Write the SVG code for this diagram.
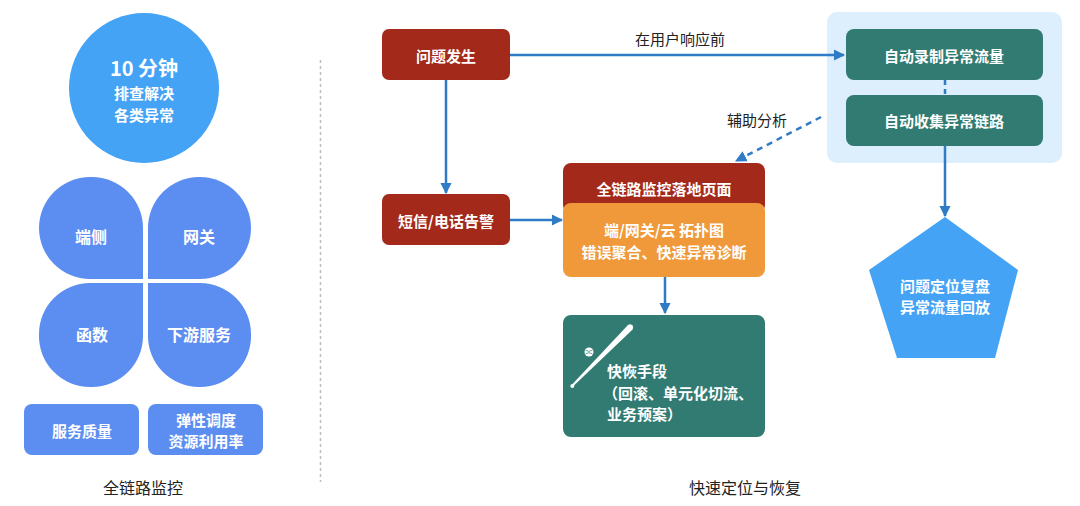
<svg xmlns="http://www.w3.org/2000/svg" width="1080" height="506" viewBox="0 0 1080 506">
<style>
  text { font-family: "Noto Sans CJK SC", "Noto Sans", "Liberation Sans", sans-serif; }
  .w { fill: #ffffff; font-weight: bold; font-size: 15px; text-anchor: middle; dominant-baseline: central; }
  .wl { fill: #ffffff; font-weight: bold; font-size: 15px; dominant-baseline: central; }
  .d { fill: #222222; font-size: 15px; text-anchor: middle; dominant-baseline: central; }
  .petal { fill: #5C8EF1; }
  .red { fill: #A3291B; }
  .teal { fill: #317B73; }
  .conn { stroke: #2F7BC6; stroke-width: 2.5; fill: none; }
  .dash { stroke: #2F7BC6; stroke-width: 2.5; fill: none; stroke-dasharray: 6 5; }
</style>
<defs>
  <marker id="ah" viewBox="0 0 10 10" refX="9" refY="5" markerWidth="4.6" markerHeight="4.6" orient="auto" markerUnits="strokeWidth">
    <path d="M0,0 L10,5 L0,10 Z" fill="#2F7BC6"/>
  </marker>
</defs>

<!-- Left section -->
<g id="node-circle">
  <circle cx="144" cy="88" r="75" fill="#45A3F6"/>
  <text class="w" x="144" y="67" style="font-size:20px">10 分钟</text>
  <text class="w" x="144" y="92">排查解决</text>
  <text class="w" x="144" y="114">各类异常</text>
</g>
<g id="node-duance">
  <path class="petal" d="M143,279 H90 A51,51 0 0 1 39,228 V228 A51,51 0 0 1 90,177 H92 A51,51 0 0 1 143,228 Z"/>
  <text class="w" x="91" y="236" style="font-size:16px">端侧</text>
</g>
<g id="node-wangguan">
  <path class="petal" d="M148,279 H200 A51,51 0 0 0 251,228 A51,51 0 0 0 200,177 H199 A51,51 0 0 0 148,228 Z"/>
  <text class="w" x="199" y="236" style="font-size:16px">网关</text>
</g>
<g id="node-hanshu">
  <path class="petal" d="M143,283 H90 A51,51 0 0 0 39,334 A51,51 0 0 0 90,387 H92 A51,51 0 0 0 143,336 Z"/>
  <text class="w" x="92" y="334" style="font-size:16px">函数</text>
</g>
<g id="node-xiayou">
  <path class="petal" d="M148,283 H200 A51,51 0 0 1 251,334 A51,51 0 0 1 200,387 H199 A51,51 0 0 1 148,336 Z"/>
  <text class="w" x="199" y="334" style="font-size:16px">下游服务</text>
</g>
<g id="node-fuwuzhiliang">
  <rect class="petal" x="24" y="404" width="115" height="51" rx="8"/>
  <text class="w" x="82" y="430">服务质量</text>
</g>
<g id="node-tanxing">
  <rect class="petal" x="148" y="404" width="115" height="51" rx="8"/>
  <text class="w" x="206" y="419">弹性调度</text>
  <text class="w" x="206" y="440">资源利用率</text>
</g>
<text class="d" x="143" y="487" style="font-size:16px">全链路监控</text>

<line x1="320.5" y1="60" x2="320.5" y2="482" stroke="#BDBDBD" stroke-width="1.5" stroke-dasharray="3 3"/>

<!-- Right section -->
<g id="node-panel">
  <rect x="827" y="12" width="235" height="151" rx="10" fill="#DDEFFC"/>
</g>

<g id="connectors">
  <line class="conn" x1="510" y1="55" x2="844" y2="55" marker-end="url(#ah)"/>
  <line class="conn" x1="446" y1="80" x2="446" y2="193" marker-end="url(#ah)"/>
  <line class="conn" x1="510" y1="220" x2="562" y2="220" marker-end="url(#ah)"/>
  <line class="conn" x1="665" y1="277" x2="665" y2="313" marker-end="url(#ah)"/>
  <line class="conn" x1="945" y1="146" x2="945" y2="216" marker-end="url(#ah)"/>
  <line class="dash" x1="945" y1="80" x2="945" y2="95" style="stroke-dasharray:5 4"/>
  <line class="dash" x1="821" y1="117" x2="736" y2="161" marker-end="url(#ah)"/>
  <text class="d" x="680" y="38">在用户响应前</text>
  <text class="d" x="757" y="119">辅助分析</text>
</g>

<g id="node-wenti">
  <rect class="red" x="382" y="29" width="128" height="51" rx="7"/>
  <text class="w" x="446" y="55">问题发生</text>
</g>
<g id="node-duanxin">
  <rect class="red" x="382" y="194" width="128" height="51" rx="7"/>
  <text class="w" x="446" y="220">短信/电话告警</text>
</g>
<g id="node-luodi">
  <rect class="red" x="563" y="163" width="202" height="50" rx="8"/>
  <text class="w" x="664" y="188">全链路监控落地页面</text>
</g>
<g id="node-tuopu">
  <rect x="563" y="203" width="202" height="74" rx="8" fill="#F0993A"/>
  <text class="w" x="664" y="229">端/网关/云 拓扑图</text>
  <text class="w" x="664" y="251">错误聚合、快速异常诊断</text>
</g>
<g id="node-kuaihui">
  <rect class="teal" x="563" y="315" width="202" height="122" rx="8"/>
  <path d="M572.3,384.3 L628,325 A3.3,3.3 0 0 1 632.6,329.6 L573.7,385.7 Z" fill="#ffffff"/>
  <circle cx="572.3" cy="386" r="2" fill="#ffffff"/>
  <circle cx="589" cy="352" r="4.5" fill="#ffffff"/>
  <path d="M585.6,350.2 Q589,352.5 592.4,350.2 M585.6,353.8 Q589,351.5 592.4,353.8" stroke="#317B73" stroke-width="0.7" fill="none"/>
  <text class="wl" x="607" y="370">快恢手段</text>
  <text class="wl" x="603" y="392">（回滚、单元化切流、</text>
  <text class="wl" x="607" y="413">业务预案）</text>
</g>

<g id="node-luzhi">
  <rect class="teal" x="846" y="29" width="197" height="51" rx="8"/>
  <text class="w" x="944" y="55">自动录制异常流量</text>
</g>
<g id="node-shouji">
  <rect class="teal" x="846" y="95" width="197" height="51" rx="8"/>
  <text class="w" x="944" y="120">自动收集异常链路</text>
</g>
<g id="node-fupan">
  <polygon points="945,217 1018,270 995,358 897,358 869,270" fill="#45A3F6"/>
  <text class="w" x="945" y="285">问题定位复盘</text>
  <text class="w" x="945" y="306">异常流量回放</text>
</g>

<text class="d" x="745" y="487" style="font-size:16px">快速定位与恢复</text>
</svg>
